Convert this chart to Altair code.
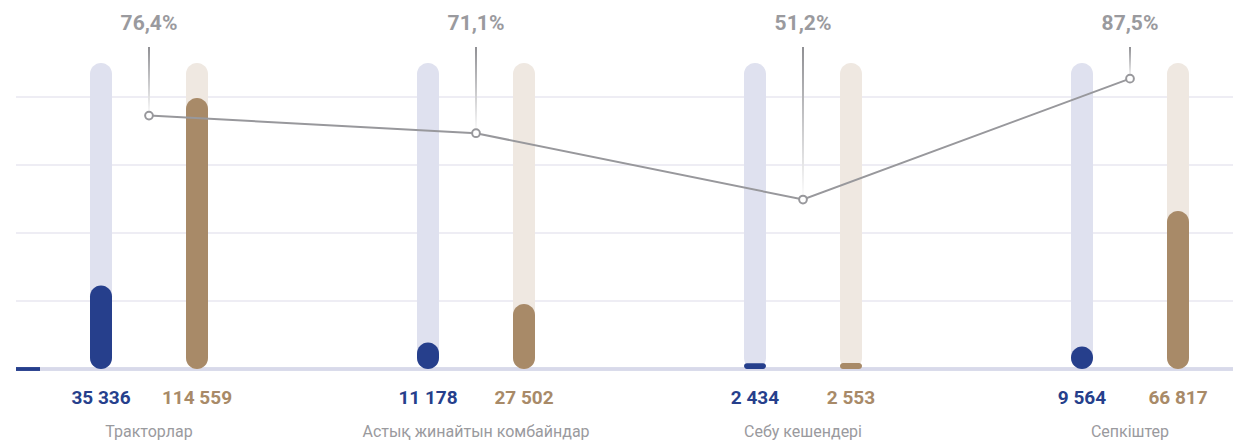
import altair as alt
import pandas as pd

categories = ["Тракторлар", "Астық жинайтын комбайндар", "Себу кешендері", "Сепкіштер"]
blue_values = [35336, 11178, 2434, 9564]
brown_values = [114559, 27502, 2553, 66817]
percents = [76.4, 71.1, 51.2, 87.5]
track_value = 129400
grid_values = [28750, 57500, 86250, 115000]

BLUE = "#263f8c"
BROWN = "#a88a68"
BLUE_TRACK = "#dfe1ef"
BROWN_TRACK = "#efe8e1"
GRAY = "#98989c"
FONT = "Roboto"

def fmt_num(v):
    return f"{v:,}".replace(",", " ")

rows = []
for c, b, r in zip(categories, blue_values, brown_values):
    rows.append({"cat": c, "series": "a", "tseries": "ta", "value": b, "track": track_value, "label": fmt_num(b)})
    rows.append({"cat": c, "series": "b", "tseries": "tb", "value": r, "track": track_value, "label": fmt_num(r)})
bars = pd.DataFrame(rows)

line_df = pd.DataFrame({
    "cat": categories,
    "pct": percents,
    "plabel": [f"{p:.1f}".replace(".", ",") + "%" for p in percents],
})
grid_df = pd.DataFrame({"g": grid_values})

xs = alt.X("cat:N", sort=categories, axis=None,
           scale=alt.Scale(range=[-30.5, 1277.5], paddingInner=0, paddingOuter=0))
xo = alt.XOffset("series:N", scale=alt.Scale(domain=["a", "b"], range=[67.5, 259.5],
                                             paddingInner=0, paddingOuter=0))
yb = alt.Scale(domain=[0, 115000], range=[361, 89], nice=False)
yp = alt.Scale(domain=[0, 100], range=[362, 29], nice=False)

grid = alt.Chart(grid_df).mark_rule(color="#eeedf4", strokeWidth=2).encode(
    y=alt.Y("g:Q", scale=yb, axis=None))

base = alt.Chart(grid_df).mark_rule(color="#d8d9ea", strokeWidth=3).encode(
    y=alt.Y(datum=0, scale=yb, axis=None))

dash = alt.Chart(grid_df).mark_rule(color=BLUE, strokeWidth=3).encode(
    x=alt.value(0), x2=alt.value(24), y=alt.Y(datum=0, scale=yb, axis=None))

track = alt.Chart(bars).mark_bar(width=22, cornerRadius=11).encode(
    x=xs, xOffset=xo,
    y=alt.Y("track:Q", scale=yb, axis=None), y2=alt.Y2(datum=0),
    color=alt.Color("tseries:N", scale=alt.Scale(domain=["ta", "tb"], range=[BLUE_TRACK, BROWN_TRACK]),
                    legend=None))

vbars = alt.Chart(bars).mark_bar(width=22, cornerRadius=11).encode(
    x=xs, xOffset=xo,
    y=alt.Y("value:Q", scale=yb, axis=None), y2=alt.Y2(datum=0),
    color=alt.Color("series:N", scale=alt.Scale(domain=["a", "b"], range=[BLUE, BROWN]), legend=None))

vlabels = alt.Chart(bars).mark_text(font=FONT, fontSize=19, fontWeight="bold",
                                    baseline="middle").encode(
    x=xs, xOffset=xo, y=alt.value(390), text="label:N",
    color=alt.Color("series:N", scale=alt.Scale(domain=["a", "b"], range=[BLUE, BROWN]), legend=None))

clabels = alt.Chart(line_df).mark_text(font=FONT, fontSize=16, color="#9a9a9e",
                                       baseline="middle").encode(
    x=xs, y=alt.value(424), text="cat:N")

grad = alt.Gradient(gradient="linear", x1=0, x2=0, y1=0, y2=1,
                    stops=[alt.GradientStop(color="#909094", offset=0),
                           alt.GradientStop(color="#ffffff", offset=1)])
conn = alt.Chart(line_df).mark_bar(width=2, color=grad).encode(
    x=xs, y=alt.Y("pct:Q", scale=yp, axis=None), y2=alt.Y2(datum=97))

line = alt.Chart(line_df).mark_line(color=GRAY, strokeWidth=2).encode(
    x=xs, y=alt.Y("pct:Q", scale=yp, axis=None))

pts = alt.Chart(line_df).mark_point(shape="circle", filled=True, fill="white", stroke=GRAY,
                                    strokeWidth=2, size=60, opacity=1).encode(
    x=xs, y=alt.Y("pct:Q", scale=yp, axis=None))

plabels = alt.Chart(line_df).mark_text(font=FONT, fontSize=21, fontWeight="bold",
                                       color="#9a9a9e", baseline="middle").encode(
    x=xs, y=alt.value(16), text="plabel:N")

chart = alt.layer(grid, base, dash, track, vbars, vlabels, clabels, conn, line, pts, plabels).resolve_scale(
    y="independent", color="independent", xOffset="shared"
).properties(
    width=1217, height=433,
    padding={"left": 8, "right": 0, "top": 0, "bottom": 0},
    autosize=alt.AutoSizeParams(type="none"),
).configure_view(stroke=None)

chart.save("out.html", embed_options={"renderer": "svg", "actions": False})
